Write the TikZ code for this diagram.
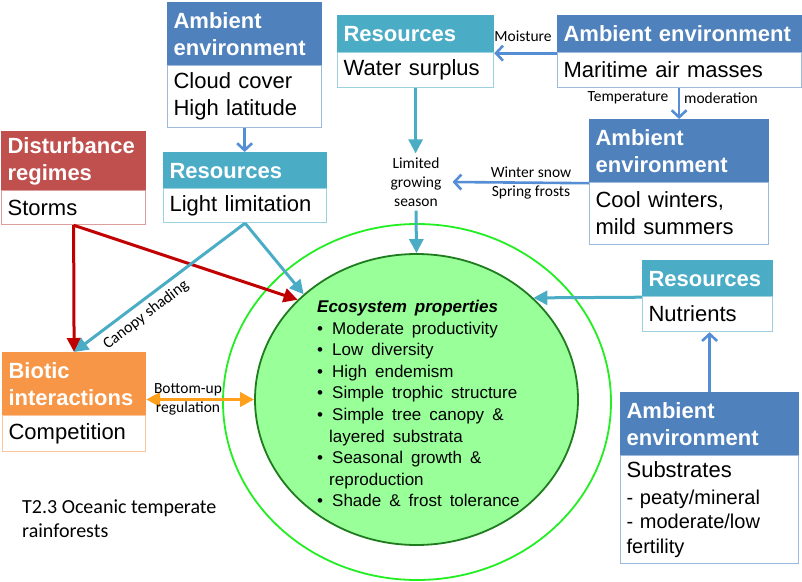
\documentclass[tikz,border=0pt]{standalone}
\usepackage{fontspec}
\setmainfont{Liberation Sans}
\newfontfamily\calfont{Carlito}
\usetikzlibrary{arrows.meta,shapes.geometric}
\definecolor{ambc}{HTML}{4F81BD}
\definecolor{resc}{HTML}{4BACC6}
\definecolor{disc}{HTML}{C0504D}
\definecolor{bioc}{HTML}{F79646}
\definecolor{blarr}{HTML}{558ED5}
\definecolor{redarr}{HTML}{C00000}
\definecolor{orarr}{HTML}{FF9F1A}
\definecolor{ecofill}{HTML}{99FF99}
\definecolor{ecoline}{HTML}{1E7B1E}
\definecolor{ringc}{HTML}{22EE22}
\newcommand\hdrfont{\bfseries\fontsize{22}{27}\selectfont}
\newcommand\bdyfont{\fontsize{22}{27}\selectfont}
\newcommand\lblfont{\calfont\fontsize{15.5}{19}\selectfont}
\newcommand\ecofont{\fontsize{17}{21.6}\selectfont}
\begin{document}
\begin{tikzpicture}[x=1pt,y=-1pt,
  box/.style={anchor=north west, inner xsep=6pt, inner ysep=0pt, align=left, line width=1.2pt},
  hdr/.style={box, draw=#1, fill=#1, text=white, font=\hdrfont},
  bdy/.style={box, draw=#1!55!white, fill=white, text=black, font=\bdyfont},
  lbl/.style={font=\lblfont, inner sep=1pt, align=center},
  tarr/.style={draw=resc, line width=3pt, -{Triangle[length=14pt,width=14pt]}},
  barr/.style={draw=blarr, line width=2.6pt, -{Straight Barb[length=7pt,width=15pt]}},
  rarr/.style={draw=redarr, line width=3pt, -{Triangle[length=14pt,width=14pt]}},
  oarr/.style={draw=orarr, line width=3.5pt, {Triangle[length=14pt,width=14pt]}-{Triangle[length=14pt,width=14pt]}}
]
\useasboundingbox (0,0) rectangle (802,581);

% ellipses
\node[ellipse, draw=ringc, line width=1.8pt, minimum width=388pt, minimum height=356pt, inner sep=0pt] (ring) at (417,402) {};
\node[ellipse, draw=ecoline, fill=ecofill, line width=1.8pt, minimum width=323pt, minimum height=291pt, inner sep=0pt] (eco) at (416.5,399.5) {};
\node[anchor=north west, inner sep=0pt, text width=210pt, align=left, font=\ecofont] (ecotxt) at (317,300) {\spaceskip=8pt plus 1pt
{\bfseries\itshape Ecosystem properties}\\
\makebox[15pt][l]{•}Moderate productivity\\
\makebox[15pt][l]{•}Low diversity\\
\makebox[15pt][l]{•}High endemism\\
\makebox[15pt][l]{•}Simple trophic structure\\
\makebox[15pt][l]{•}Simple tree canopy \&\\
\hspace*{12pt}layered substrata\\
\makebox[15pt][l]{•}Seasonal growth \&\\
\hspace*{12pt}reproduction\\
\makebox[15pt][l]{•}Shade \& frost tolerance};

% boxes
\node[hdr=ambc, minimum width=154pt, text width=142pt, minimum height=63pt] (a1h) at (167,2) {Ambient\\environment};
\node[bdy=ambc, minimum width=154pt, text width=142pt, minimum height=62pt] (a1b) at (167,65) {Cloud cover\\High latitude};

\node[hdr=resc, minimum width=163pt, text width=151pt, minimum height=36pt] (r1h) at (163,152) {Resources};
\node[bdy=resc, minimum width=163pt, text width=151pt, minimum height=34pt] (r1b) at (163,188) {Light limitation};

\node[hdr=disc, minimum width=144pt, text width=132pt, minimum height=59pt] (d1h) at (1,131) {Disturbance\\regimes};
\node[bdy=disc, minimum width=144pt, text width=132pt, minimum height=34pt] (d1b) at (1,190) {Storms};

\node[hdr=resc, minimum width=156pt, text width=144pt, minimum height=37pt] (r2h) at (337,15) {Resources};
\node[bdy=resc, minimum width=156pt, text width=144pt, minimum height=35pt] (r2b) at (337,52) {Water surplus};

\node[hdr=ambc, minimum width=244pt, text width=232pt, minimum height=37pt] (a2h) at (557,15) {Ambient environment};
\node[bdy=ambc, minimum width=244pt, text width=232pt, minimum height=35pt] (a2b) at (557,52) {Maritime air masses};

\node[hdr=ambc, minimum width=179pt, text width=167pt, minimum height=63pt] (a3h) at (589,119) {Ambient\\environment};
\node[bdy=ambc, minimum width=179pt, text width=167pt, minimum height=62pt] (a3b) at (589,182) {Cool winters,\\mild summers};

\node[hdr=resc, minimum width=130pt, text width=118pt, minimum height=36pt] (r3h) at (642,260) {Resources};
\node[bdy=resc, minimum width=130pt, text width=118pt, minimum height=35pt] (r3b) at (642,296) {Nutrients};

\node[hdr=ambc, minimum width=178pt, text width=166pt, minimum height=63pt] (a4h) at (620,392) {Ambient\\environment};
\node[bdy=ambc, minimum width=178pt, text width=166pt, minimum height=108pt, font=\fontsize{20}{24.5}\selectfont] (a4b) at (620,455) {{\fontsize{22}{27}\selectfont Substrates}\\[2pt]- peaty/mineral\\- moderate/low\\fertility};

\node[hdr=bioc, minimum width=143pt, text width=131pt, minimum height=63pt] (b1h) at (2,352) {Biotic\\interactions};
\node[bdy=bioc, minimum width=143pt, text width=131pt, minimum height=36pt] (b1b) at (2,415) {Competition};

% labels
\node[lbl, inner xsep=11pt, inner ysep=4pt] (lgs) at (416,182) {Limited\\growing\\season};
\node[lbl] (moist) at (523,36) {Moisture};
\node[lbl] (tmp) at (628,98) {Temperature};
\node[lbl] (modr) at (721,98) {moderation};
\node[lbl] (ws) at (531,172) {Winter snow};
\node[lbl] (sf) at (531,192) {Spring frosts};
\node[lbl, rotate=37.4, font=\calfont\fontsize{16}{19}\selectfont] (cs) at (146,315) {Canopy shading};
\node[anchor=west, inner xsep=3pt, align=left, font=\calfont\fontsize{20}{24}\selectfont] (title) at (19,518.5) {T2.3 Oceanic temperate\\rainforests};

% arrows
\draw[barr] (a1b.south) -- (a1b.south |- r1h.north);
\draw[barr] (a2h.south west) -- (r2h.south east);
\draw[barr] (a3h.north |- a2b.south) -- (a3h.north);
\draw[tarr] (r2b.south) -- (r2b.south |- lgs.north);
\draw[barr] (a3h.south west) -- (lgs.east);
\draw[tarr] (lgs.south) -- (eco.north);
\draw[tarr] (r3h.south west) -- (eco.41);
\draw[barr] (a4h.north) -- (a4h.north |- r3b.south);
\draw[rarr] (d1b.south) -- (b1h.north);
\draw[rarr] (d1b.south) -- (eco.140);
\draw[tarr] (r1b.south) -- (b1h.north);
\draw[tarr] (r1b.south) -- (eco.137);
\draw[oarr] (eco.west -| b1h.east) -- (eco.west);
\node[lbl] (bu) at (188,399.5) {Bottom-up\\regulation};
\end{tikzpicture}
\end{document}
